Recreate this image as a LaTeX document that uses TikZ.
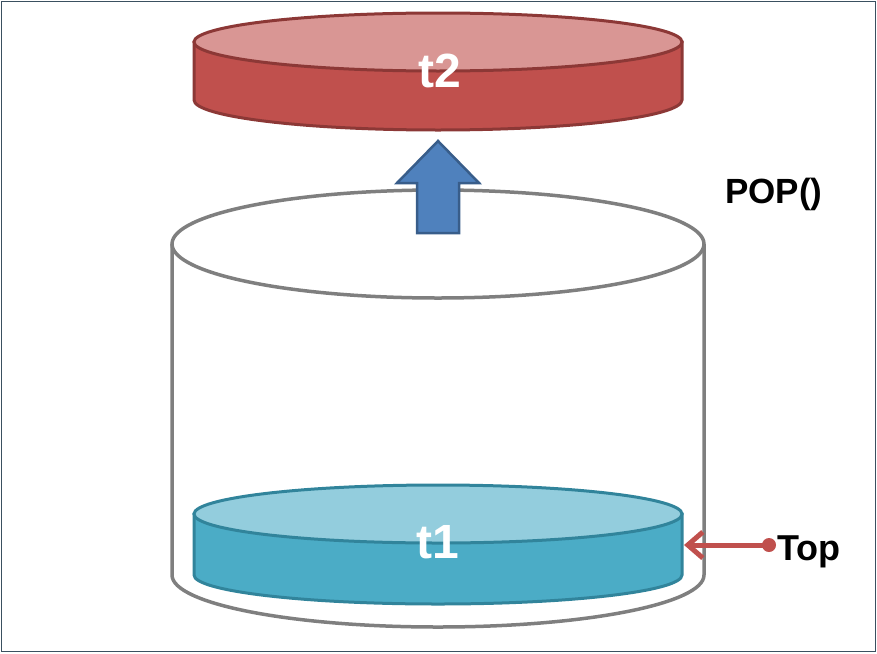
\documentclass[tikz,border=0pt]{standalone}
\usepackage{fontspec}
\setmainfont{Liberation Sans}
\usetikzlibrary{arrows.meta}
\definecolor{frameC}{HTML}{3A5060}
\definecolor{cylGray}{HTML}{7F7F7F}
\definecolor{redTop}{HTML}{D99694}
\definecolor{redSide}{HTML}{C0504D}
\definecolor{redLine}{HTML}{8C3836}
\definecolor{bluTop}{HTML}{93CDDD}
\definecolor{bluSide}{HTML}{4BACC6}
\definecolor{bluLine}{HTML}{31849B}
\definecolor{arrFill}{HTML}{4F81BD}
\definecolor{arrLine}{HTML}{385D8A}
\definecolor{ptrRed}{HTML}{C0504D}
\tikzset{
  discstyle/.style={line width=3pt},
  cylstyle/.style={draw=cylGray, line width=3.5pt},
  disclabel/.style={text=white, font=\bfseries\fontsize{48}{48}\selectfont, inner sep=0pt, anchor=base},
  sidelabel/.style={text=black, font=\bfseries\fontsize{35}{35}\selectfont, inner sep=0pt, anchor=base},
  ptrline/.style={draw=ptrRed, line width=5pt, -{Straight Barb[length=15pt,width=26pt]}},
}
\begin{document}
\begin{tikzpicture}[x=1pt,y=1pt]
\useasboundingbox (0,0) rectangle (877,-653);
% frame
\draw[frameC, line width=1.5pt] (1.5,-1.5) rectangle (875.5,-651.5);
% big container cylinder
\draw[cylstyle]
  (172,-244) -- (172,-575) arc[start angle=180, end angle=360, x radius=266, y radius=52]
  -- (704,-244);
\draw[cylstyle] (438,-244) ellipse [x radius=266, y radius=54];
% blue disc t1
\filldraw[discstyle, draw=bluLine, fill=bluSide]
  (194,-514) -- (194,-575) arc[start angle=180, end angle=360, x radius=244, y radius=29]
  -- (682,-514) -- cycle;
\filldraw[discstyle, draw=bluLine, fill=bluTop] (438,-514) ellipse [x radius=244, y radius=29];
\node[disclabel] (t1) at (438,-558) {t1};
\coordinate (t1e) at (684,-545);
% red disc t2
\filldraw[discstyle, draw=redLine, fill=redSide]
  (194,-42) -- (194,-100) arc[start angle=180, end angle=360, x radius=244, y radius=30]
  -- (682,-42) -- cycle;
\filldraw[discstyle, draw=redLine, fill=redTop] (438,-42) ellipse [x radius=244, y radius=29];
\node[disclabel] (t2) at (440,-87) {t2};
% block arrow up
\filldraw[fill=arrFill, draw=arrLine, line width=2.5pt, line join=miter]
  (438,-141) -- (479,-183) -- (459,-183) -- (459,-233) -- (417,-233) -- (417,-183) -- (397,-183) -- cycle;
% labels
\node[sidelabel] (pop) at (774,-203) {POP()};
\node[sidelabel, anchor=base west, font=\bfseries\fontsize{36}{36}\selectfont] (top) at (777,-560) {Top};
\coordinate (dot) at (769,-545);
\draw[ptrline] (dot) -- (t1e);
\fill[ptrRed] (dot) circle (7);
\end{tikzpicture}
\end{document}
